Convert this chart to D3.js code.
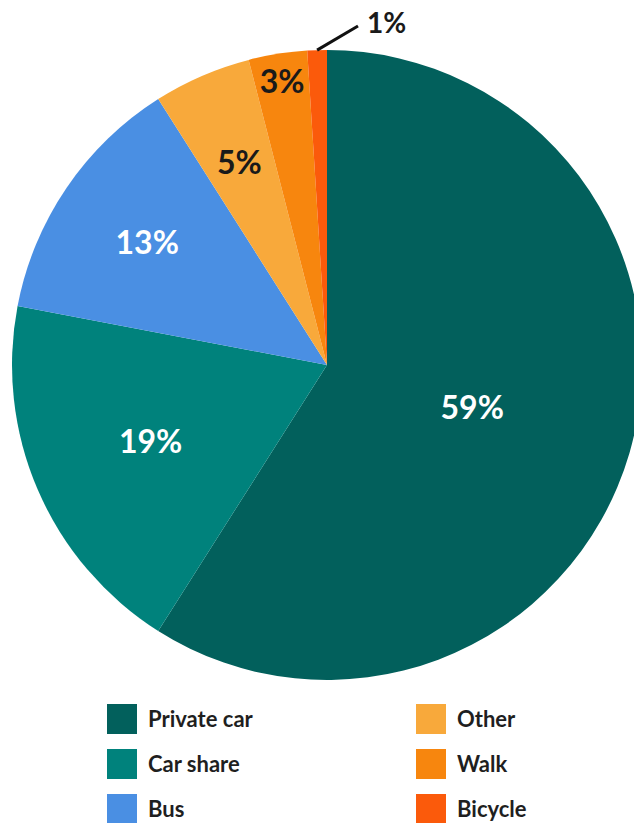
<!DOCTYPE html>
<html>
<head>
<meta charset="utf-8">
<script src="https://cdn.jsdelivr.net/npm/d3@7"></script>
<style>
  html, body { margin: 0; padding: 0; background: #fff; overflow: hidden; }
  svg text { font-family: Lato, "Noto Sans", sans-serif; }
</style>
</head>
<body>
<svg id="chart" width="634" height="823"></svg>
<script>
const categories = ["Private car", "Car share", "Bus", "Other", "Walk", "Bicycle"];
const shares = [59, 19, 13, 5, 3, 1];
const colors = ["#02605c", "#00827c", "#4a8fe3", "#f8a93b", "#f7860e", "#fb5a0b"];
const labelColors = ["#ffffff", "#ffffff", "#ffffff", "#1a1a1a", "#1a1a1a", "#1a1a1a"];

const svg = d3.select("#chart"),
    width = +svg.attr("width"),
    height = +svg.attr("height");

const cx = 327, cy = 365, radius = 315;

// how far out each label sits, as fraction of the radius
const labelPos = [0.48, 0.61, 0.69, 0.70, 0.91, null];

const pie = d3.pie().sort(null).value(d => d.value);
const data = categories.map((c, i) => ({ name: c, value: shares[i], color: colors[i], i: i }));
const arcs = pie(data);

const arc = d3.arc().innerRadius(0).outerRadius(radius);

const g = svg.append("g").attr("transform", `translate(${cx},${cy})`);

g.selectAll("path")
    .data(arcs)
    .enter()
    .append("path")
    .attr("d", arc)
    .attr("fill", d => d.data.color);

// inside labels
g.selectAll("text.pct")
    .data(arcs.filter(d => labelPos[d.data.i] !== null))
    .enter()
    .append("text")
    .attr("class", "pct")
    .attr("transform", function (d) {
        let r = labelPos[d.data.i] * radius;
        let c = d3.arc().innerRadius(r).outerRadius(r).centroid(d);
        return `translate(${c[0]},${c[1]})`;
    })
    .attr("text-anchor", "middle")
    .attr("dy", "0.36em")
    .style("font-size", "32px")
    .style("font-weight", "700")
    .attr("fill", d => labelColors[d.data.i])
    .text(d => d.data.value + "%");

// the little slice gets a leader line
const tiny = arcs[arcs.length - 1];
const mid = (tiny.startAngle + tiny.endAngle) / 2;
const p0 = [radius * Math.sin(mid), -radius * Math.cos(mid)];
const p1 = [358 - cx, 26 - cy];
g.append("line")
    .attr("x1", p0[0]).attr("y1", p0[1])
    .attr("x2", p1[0]).attr("y2", p1[1])
    .attr("stroke", "#111")
    .attr("stroke-width", 3);
g.append("text")
    .attr("x", p1[0] + 9)
    .attr("y", p1[1] + 7)
    .style("font-size", "28px")
    .style("font-weight", "700")
    .attr("fill", labelColors[tiny.data.i])
    .text(tiny.data.value + "%");

// legend, two columns of three
const legend = svg.append("g");
const items = legend.selectAll("g")
    .data(data)
    .enter()
    .append("g")
    .attr("transform", function (d, i) {
        let col = Math.floor(i / 3), row = i % 3;
        return `translate(${107 + col * 309},${704 + row * 45})`;
    });
items.append("rect")
    .attr("width", 30)
    .attr("height", 30)
    .attr("fill", d => d.color);
items.append("text")
    .attr("x", 41)
    .attr("y", 15)
    .attr("dy", "0.36em")
    .style("font-size", "22px")
    .style("font-weight", "700")
    .attr("fill", "#1f1f1f")
    .text(d => d.name);
</script>
</body>
</html>
